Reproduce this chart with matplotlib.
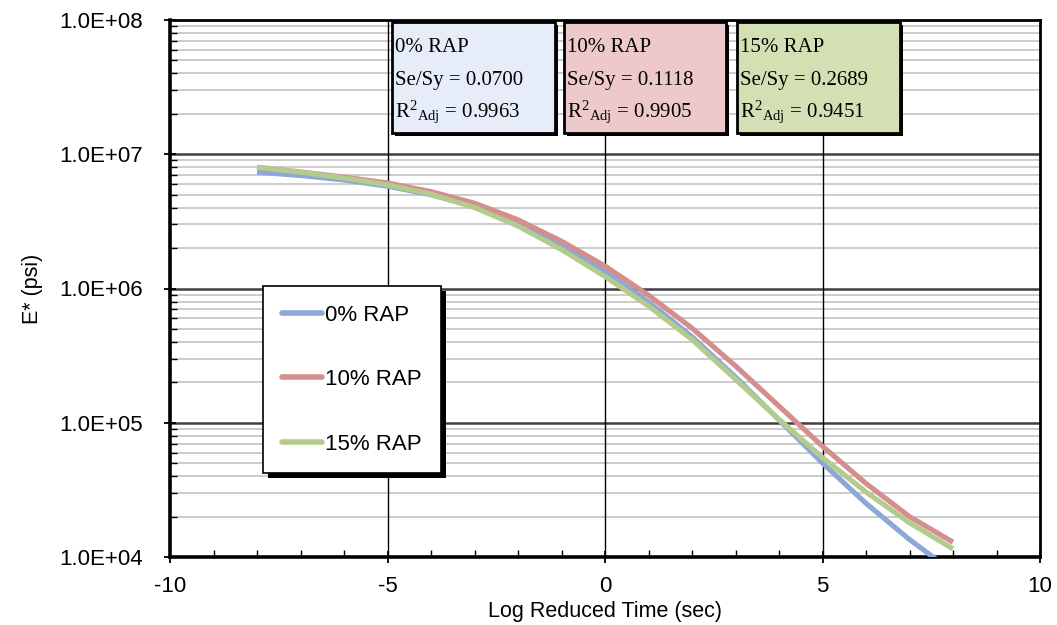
import matplotlib
matplotlib.use("Agg")
import matplotlib.pyplot as plt
import matplotlib.patheffects as pe
from matplotlib.patches import Rectangle
from matplotlib.ticker import FixedLocator, FuncFormatter, MultipleLocator
import numpy as np

# ---- data ----
log_time = [-8, -7, -6, -5, -4, -3, -2, -1, 0, 1, 2, 3, 4, 5, 6, 7, 8]
e_rap0 = [7.35e6, 6.95e6, 6.43e6, 5.78e6, 4.99e6, 4.07e6, 3.07e6, 2.11e6, 1.34e6,
          7.94e5, 4.37e5, 2.19e5, 1.05e5, 5.01e4, 2.51e4, 1.35e4, 7.76e3]
e_rap10 = [8.00e6, 7.38e6, 6.76e6, 6.11e6, 5.27e6, 4.32e6, 3.25e6, 2.25e6, 1.47e6,
           8.91e5, 5.07e5, 2.65e5, 1.33e5, 6.68e4, 3.53e4, 2.00e4, 1.29e4]
e_rap15 = [8.00e6, 7.35e6, 6.65e6, 5.92e6, 5.04e6, 4.01e6, 2.92e6, 1.95e6, 1.23e6,
           7.41e5, 4.17e5, 2.11e5, 1.06e5, 5.50e4, 3.05e4, 1.80e4, 1.15e4]
series_names = ["0% RAP", "10% RAP", "15% RAP"]
se_sy = ["0.0700", "0.1118", "0.2689"]
r2_adj = ["0.9963", "0.9905", "0.9451"]

line_colors = ["#8DA7D6", "#D58E8E", "#B3CB8C"]
box_colors = ["#E6ECF8", "#EEC9C9", "#D2E0B3"]

plt.rcParams['axes.unicode_minus'] = False
plt.rcParams['mathtext.fontset'] = 'custom'
plt.rcParams['mathtext.rm'] = 'Liberation Serif'
plt.rcParams['mathtext.it'] = 'Liberation Serif:italic'
plt.rcParams['mathtext.bf'] = 'Liberation Serif:bold'

fig = plt.figure(figsize=(10.57, 6.25), dpi=100)
ax = fig.add_axes([170/1057, 1-557/625, 870/1057, 537/625])

ax.set_yscale('log')
ax.set_xlim(-10, 10)
ax.set_ylim(1e4, 1e8)

# grid
minor_y = [m * 10.0**d for d in range(4, 8) for m in range(2, 10)]
for v in minor_y:
    ax.axhline(v, color='#C8C8C8', lw=1.3, zorder=0.5)
for d in range(5, 8):
    ax.axhline(10.0**d, color='#404040', lw=1.8, zorder=0.6)
for xv in (-5, 0, 5):
    ax.axvline(xv, color='black', lw=1.0, zorder=0.6)

for yv, c, lab in [(e_rap0, line_colors[0], series_names[0]),
                   (e_rap10, line_colors[1], series_names[1]),
                   (e_rap15, line_colors[2], series_names[2])]:
    ax.plot(log_time, yv, color=c, lw=3.7, label=lab, solid_capstyle='butt',
            solid_joinstyle='round', zorder=3)

# ticks
ax.xaxis.set_major_locator(MultipleLocator(5))
ax.xaxis.set_minor_locator(MultipleLocator(1))
ax.yaxis.set_major_locator(FixedLocator([1e4, 1e5, 1e6, 1e7, 1e8]))
ax.yaxis.set_minor_locator(FixedLocator(minor_y))
ax.yaxis.set_major_formatter(FuncFormatter(lambda v, p: "1.0E+%02d" % int(round(np.log10(v)))))
ax.yaxis.set_minor_formatter(FuncFormatter(lambda v, p: ""))
ax.tick_params(which='major', direction='inout', length=9, width=1.3, labelsize=16,
               colors='black', pad=5)
ax.tick_params(which='minor', direction='in', length=5, width=1.0)
ax.tick_params(axis='x', which='major', pad=9)
ax.tick_params(axis='y', which='major', pad=15)
for lbl in ax.get_xticklabels() + ax.get_yticklabels():
    lbl.set_fontfamily('Liberation Sans')

for s in ax.spines.values():
    s.set_linewidth(2.0)
    s.set_color('black')
ax.spines['left'].set_linewidth(2.6)
ax.spines['bottom'].set_linewidth(2.6)

ax.set_xlabel("Log Reduced Time (sec)", fontsize=15.5, family='Liberation Sans', labelpad=3)
ax.set_ylabel("E* (psi)", fontsize=15.5, family='Liberation Sans', labelpad=12)

# annotation boxes
box_x = [(392, 555), (564, 726), (737, 900)]
for i in range(3):
    x0 = (box_x[i][0] - 170) / 870
    x1 = (box_x[i][1] - 170) / 870
    y1 = 1 - (22 - 20) / 537
    y0 = 1 - (133 - 20) / 537
    r = Rectangle((x0, y0), x1 - x0, y1 - y0, transform=ax.transAxes,
                  facecolor=box_colors[i], edgecolor='black', lw=2.0, zorder=5)
    r.set_path_effects([pe.SimplePatchShadow(offset=(2.0, -2.0), shadow_rgbFace='black', alpha=1.0),
                        pe.Normal()])
    ax.add_patch(r)
    tx = x0 + 3 / 870
    lines = [series_names[i], "Se/Sy = " + se_sy[i], r"R$^{2}{}_{\mathrm{Adj}}$ = " + r2_adj[i]]
    ys = [51.7, 85, 116.7]
    for t, yb in zip(lines, ys):
        ax.text(tx, 1 - (yb - 20) / 537, t, transform=ax.transAxes, fontsize=15,
                family='Liberation Serif', va='baseline', ha='left', zorder=6)

# legend
leg = ax.legend(loc='upper left', bbox_to_anchor=((263 - 170) / 870, 1 - (286 - 20) / 537),
                frameon=True, fancybox=False, edgecolor='black', framealpha=1.0,
                prop={'family': 'Liberation Sans', 'size': 16},
                labelspacing=1.95, handlelength=1.8, handletextpad=0.15,
                borderpad=0.85, borderaxespad=0.0)
leg.get_frame().set_linewidth(1.2)
leg.get_frame().set_path_effects([pe.SimplePatchShadow(offset=(3.5, -3.5), shadow_rgbFace='black', alpha=1.0),
                                  pe.Normal()])
for h in leg.get_lines():
    h.set_linewidth(4.0)
    h.set_solid_capstyle('round')
leg.set_zorder(7)

fig.savefig("out.png", dpi=100)
